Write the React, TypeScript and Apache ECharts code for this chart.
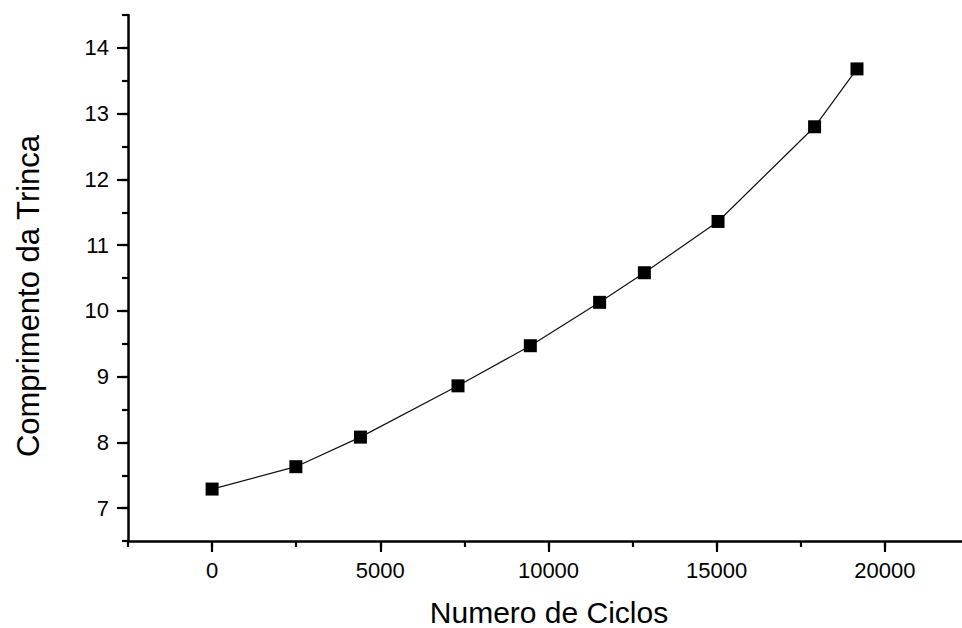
import React, { useEffect, useRef } from "react";
import * as echarts from "echarts";

const cycles = [0, 2490, 4410, 7310, 9460, 11520, 12850, 15040, 17910, 19170];
const lengths = [7.29, 7.63, 8.08, 8.86, 9.47, 10.13, 10.58, 11.36, 12.8, 13.68];
const xMajor = [0, 5000, 10000, 15000, 20000];
const yMajor = [7, 8, 9, 10, 11, 12, 13, 14];
const xTitle = "Numero de Ciclos";
const yTitle = "Comprimento da Trinca";

const FONT = "'Liberation Sans', Arial, Helvetica, sans-serif";

export default function App() {
  const ref = useRef<HTMLDivElement>(null);
  useEffect(() => {
    document.body.style.margin = "0";
    document.body.style.overflow = "hidden";
    document.documentElement.style.overflow = "hidden";
    if (!ref.current) return;
    const chart = echarts.init(ref.current, null, { renderer: "svg" });
    const gridRect = { left: 128, top: 15, width: 841, height: 526 };
    const axisLs = () => ({ color: "#000", width: 2.5 });
    const tickLs = () => ({ color: "#000", width: 2.2 });
    const fmt = (v: number) => String(v);
    chart.setOption({
      animation: false,
      backgroundColor: "#fff",
      grid: [{ ...gridRect }, { ...gridRect }],
      xAxis: [
        {
          type: "value",
          gridIndex: 0,
          min: -2500,
          max: 22500,
          interval: 2500,
          position: "bottom",
          axisLine: { show: true, onZero: false, lineStyle: axisLs() },
          axisTick: { show: true, customValues: xMajor, length: 11, lineStyle: tickLs() },
          axisLabel: {
            customValues: xMajor,
            formatter: fmt,
            fontSize: 22,
            color: "#000",
            fontFamily: FONT,
            margin: 18,
          },
          splitLine: { show: false },
        },
        {
          type: "value",
          gridIndex: 1,
          min: -2500,
          max: 22500,
          interval: 2500,
          position: "bottom",
          axisLine: { show: false, onZero: false },
          axisTick: { show: true, length: 6, lineStyle: tickLs() },
          axisLabel: { show: false },
          splitLine: { show: false },
        },
      ],
      yAxis: [
        {
          type: "value",
          gridIndex: 0,
          min: 6.5,
          max: 14.5,
          interval: 0.5,
          position: "left",
          axisLine: { show: true, onZero: false, lineStyle: axisLs() },
          axisTick: { show: true, customValues: yMajor, length: 11, lineStyle: tickLs() },
          axisLabel: {
            customValues: yMajor,
            formatter: fmt,
            fontSize: 22,
            color: "#000",
            fontFamily: FONT,
            margin: 19,
          },
          splitLine: { show: false },
        },
        {
          type: "value",
          gridIndex: 1,
          min: 6.5,
          max: 14.5,
          interval: 0.5,
          position: "left",
          axisLine: { show: false, onZero: false },
          axisTick: { show: true, length: 6, lineStyle: tickLs() },
          axisLabel: { show: false },
          splitLine: { show: false },
        },
      ],
      series: [
        {
          type: "line",
          xAxisIndex: 0,
          yAxisIndex: 0,
          data: cycles.map((c, i) => [c, lengths[i]]),
          symbol: "rect",
          symbolSize: 13,
          showSymbol: true,
          itemStyle: { color: "#000" },
          lineStyle: { color: "#111", width: 1.2 },
          z: 3,
        },
      ],
      graphic: [
        {
          type: "text",
          x: 549,
          y: 612,
          style: {
            text: xTitle,
            font: `30px ${FONT}`,
            fill: "#000",
            align: "center",
            verticalAlign: "middle",
          },
        },
        {
          type: "text",
          x: 28,
          y: 296,
          rotation: Math.PI / 2,
          style: {
            text: yTitle,
            font: `31px ${FONT}`,
            fill: "#000",
            align: "center",
            verticalAlign: "middle",
          },
        },
      ],
    });
    return () => chart.dispose();
  }, []);
  return <div ref={ref} style={{ width: 975, height: 628 }} />;
}
